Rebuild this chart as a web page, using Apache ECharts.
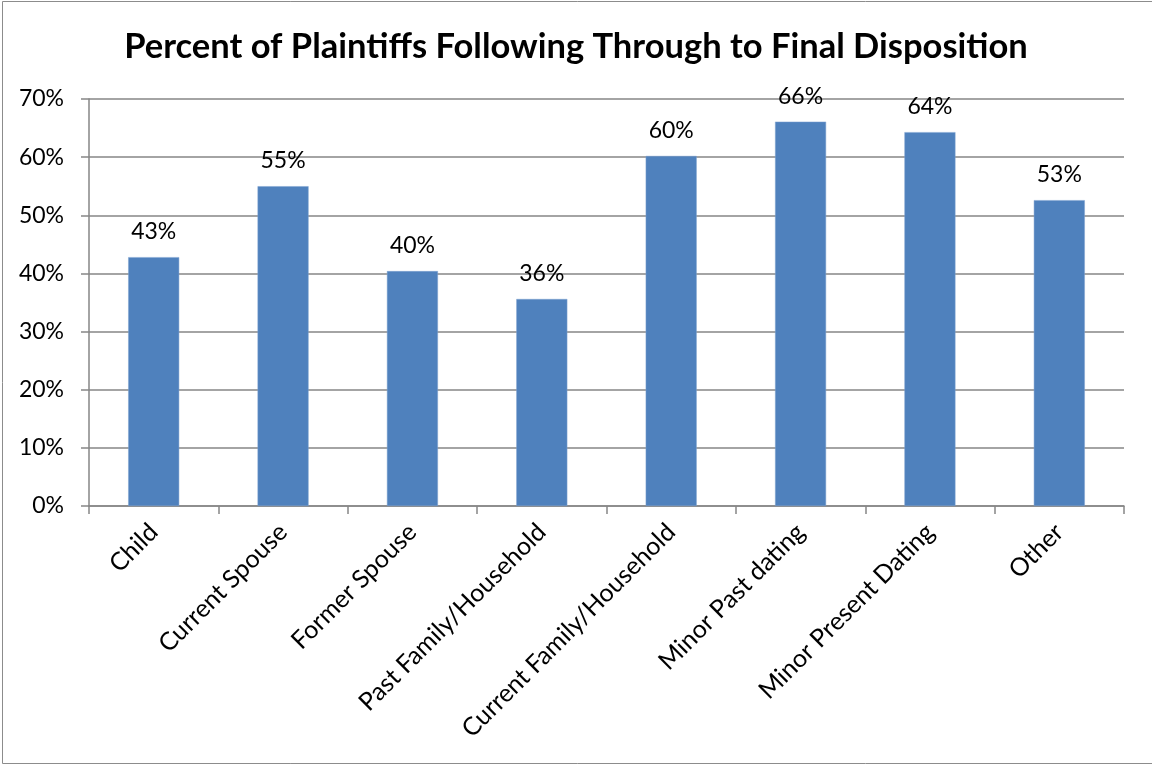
<!DOCTYPE html>
<html>
<head>
<meta charset="utf-8">
<style>
  html, body { margin: 0; padding: 0; background: #ffffff; }
  #chart { width: 1152px; height: 765px; }
</style>
<script src="https://cdn.jsdelivr.net/npm/echarts@6/dist/echarts.min.js"></script>
</head>
<body>
<div id="chart"></div>
<script>
// Relationship of plaintiff to defendant
const categories = [
  'Child',
  'Current Spouse',
  'Former Spouse',
  'Past Family/Household',
  'Current Family/Household',
  'Minor Past dating',
  'Minor Present Dating',
  'Other'
];

// Share of plaintiffs following through to final disposition (%)
const followThroughPct = [42.8, 55.0, 40.4, 35.6, 60.2, 66.1, 64.3, 52.6];

// Value axis range and step (%)
const yMin = 0;
const yMax = 70;
const yStep = 10;

const titleText = 'Percent of Plaintiffs Following Through to Final Disposition';

const FONT = 'Lato, "Open Sans", sans-serif';
const GRAY = '#868686';
const BAR = '#4F81BD';

const chart = echarts.init(document.getElementById('chart'), null, { renderer: 'canvas' });

chart.setOption({
  backgroundColor: '#ffffff',
  animation: false,
  title: {
    text: titleText,
    left: 'center',
    top: 24,
    textStyle: {
      fontFamily: FONT,
      fontWeight: 'bold',
      fontSize: 34.5,
      color: '#000000'
    }
  },
  graphic: [{
    type: 'rect',
    silent: true,
    shape: { x: 2.5, y: 1.5, width: 1200, height: 762 },
    style: { fill: 'none', stroke: '#8c8c8c', lineWidth: 1 }
  }],
  grid: {
    left: 89,
    right: 28,
    top: 99,
    bottom: 259,
    containLabel: false
  },
  xAxis: {
    type: 'category',
    data: categories,
    axisLine: { show: true, lineStyle: { color: GRAY, width: 1.5 } },
    axisTick: { show: true, length: 8, alignWithLabel: false, lineStyle: { color: GRAY, width: 1.5 } },
    axisLabel: {
      interval: 0,
      rotate: 45,
      margin: 22,
      fontFamily: FONT,
      fontSize: 25,
      color: '#000000'
    },
    splitLine: { show: false }
  },
  yAxis: {
    type: 'value',
    min: yMin,
    max: yMax,
    interval: yStep,
    axisLine: { show: true, lineStyle: { color: GRAY, width: 1.5 } },
    axisTick: { show: true, length: 8, lineStyle: { color: GRAY, width: 1.5 } },
    axisLabel: {
      margin: 25,
      fontFamily: FONT,
      fontSize: 23,
      color: '#000000',
      formatter: v => v + '%'
    },
    splitLine: { show: true, lineStyle: { color: GRAY, width: 1.5 } }
  },
  series: [{
    type: 'bar',
    data: followThroughPct,
    barWidth: 51,
    itemStyle: { color: BAR, borderColor: '#7FA3D1', borderWidth: 0.5 },
    label: {
      show: true,
      position: 'top',
      distance: 14,
      fontFamily: FONT,
      fontSize: 23,
      color: '#000000',
      formatter: p => Math.round(p.value) + '%'
    }
  }]
});
</script>
</body>
</html>
